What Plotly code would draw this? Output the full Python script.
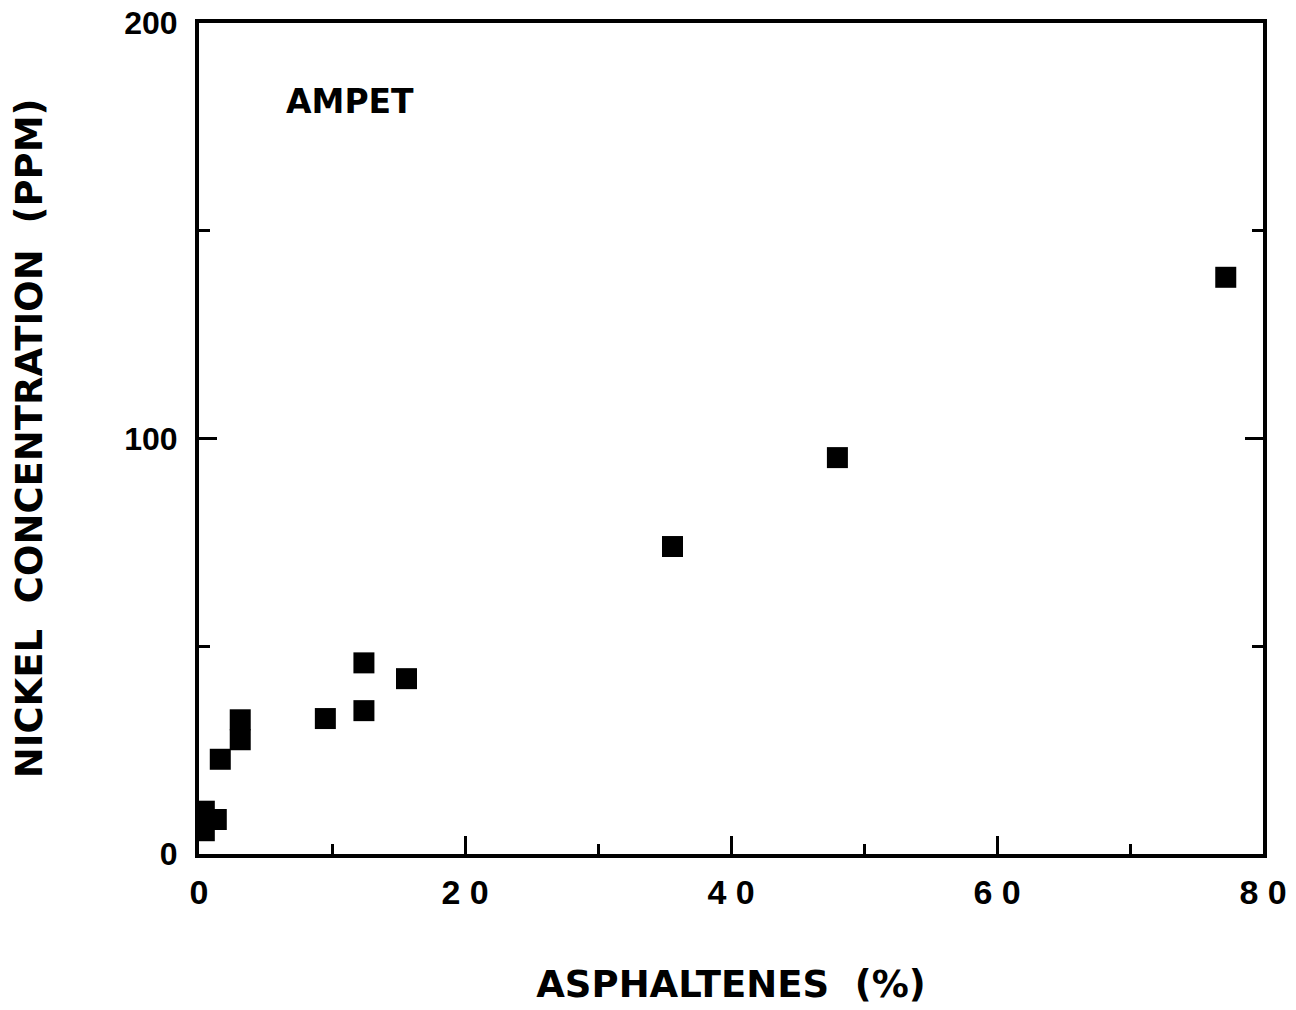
import plotly.graph_objects as go

asphaltenes = [0.4, 0.4, 1.3, 1.6, 3.1, 3.1, 9.5, 12.4, 12.4, 15.6, 35.6, 48.0, 77.2]
nickel = [10.3, 5.6, 8.3, 22.8, 32.3, 27.5, 32.6, 46.0, 34.5, 42.2, 74.0, 95.4, 138.8]

x_tickvals = [0, 20, 40, 60, 80]
x_ticktext = ["0", "2 0", "4 0", "6 0", "8 0"]
y_tickvals = [0, 100, 200]
y_ticktext = ["0", "100", "200"]

fig = go.Figure()
fig.add_trace(go.Scatter(
    x=asphaltenes, y=nickel, mode="markers",
    marker=dict(symbol="square", size=21, color="black", line=dict(width=0)),
    showlegend=False,
))

fig.add_annotation(
    text="<b>AMPET</b>", x=0.1415, y=0.9055, xref="paper", yref="paper",
    xanchor="center", yanchor="middle", showarrow=False,
    font=dict(family="DejaVu Sans", size=33, color="black"),
)

fig.update_layout(
    width=1296, height=1010,
    margin=dict(l=191, r=41, t=15, b=164, autoexpand=False),
    paper_bgcolor="white", plot_bgcolor="white",
    font=dict(color="black"),
)

fig.update_xaxes(
    range=[0, 80], showgrid=False, zeroline=False, automargin=False,
    showline=True, linewidth=4, linecolor="black", mirror=True,
    tickmode="array", tickvals=x_tickvals, ticktext=x_ticktext,
    ticks="inside", ticklen=18, tickwidth=3, tickcolor="black",
    minor=dict(dtick=10, ticks="inside", ticklen=10, tickwidth=3, tickcolor="black"),
    tickfont=dict(family="Liberation Sans", size=34, color="black", weight="bold"),
    ticklabelstandoff=5, ticklabeloverflow="allow",
    title=dict(text="<b>ASPHALTENES  (%)</b>", standoff=62,
               font=dict(family="DejaVu Sans", size=37, color="black")),
)

fig.update_yaxes(
    range=[0, 200], showgrid=False, zeroline=False, automargin=False,
    showline=True, linewidth=4, linecolor="black", mirror="ticks",
    tickmode="array", tickvals=y_tickvals, ticktext=y_ticktext,
    ticks="inside", ticklen=18, tickwidth=3, tickcolor="black",
    minor=dict(dtick=50, ticks="inside", ticklen=11, tickwidth=3, tickcolor="black"),
    tickfont=dict(family="Liberation Sans", size=32, color="black", weight="bold"),
    ticklabelstandoff=11, ticklabeloverflow="allow",
    title=dict(text="<b>NICKEL  CONCENTRATION  (PPM)</b>", standoff=77,
               font=dict(family="DejaVu Sans", size=37, color="black")),
)

fig.write_html("out.html")
